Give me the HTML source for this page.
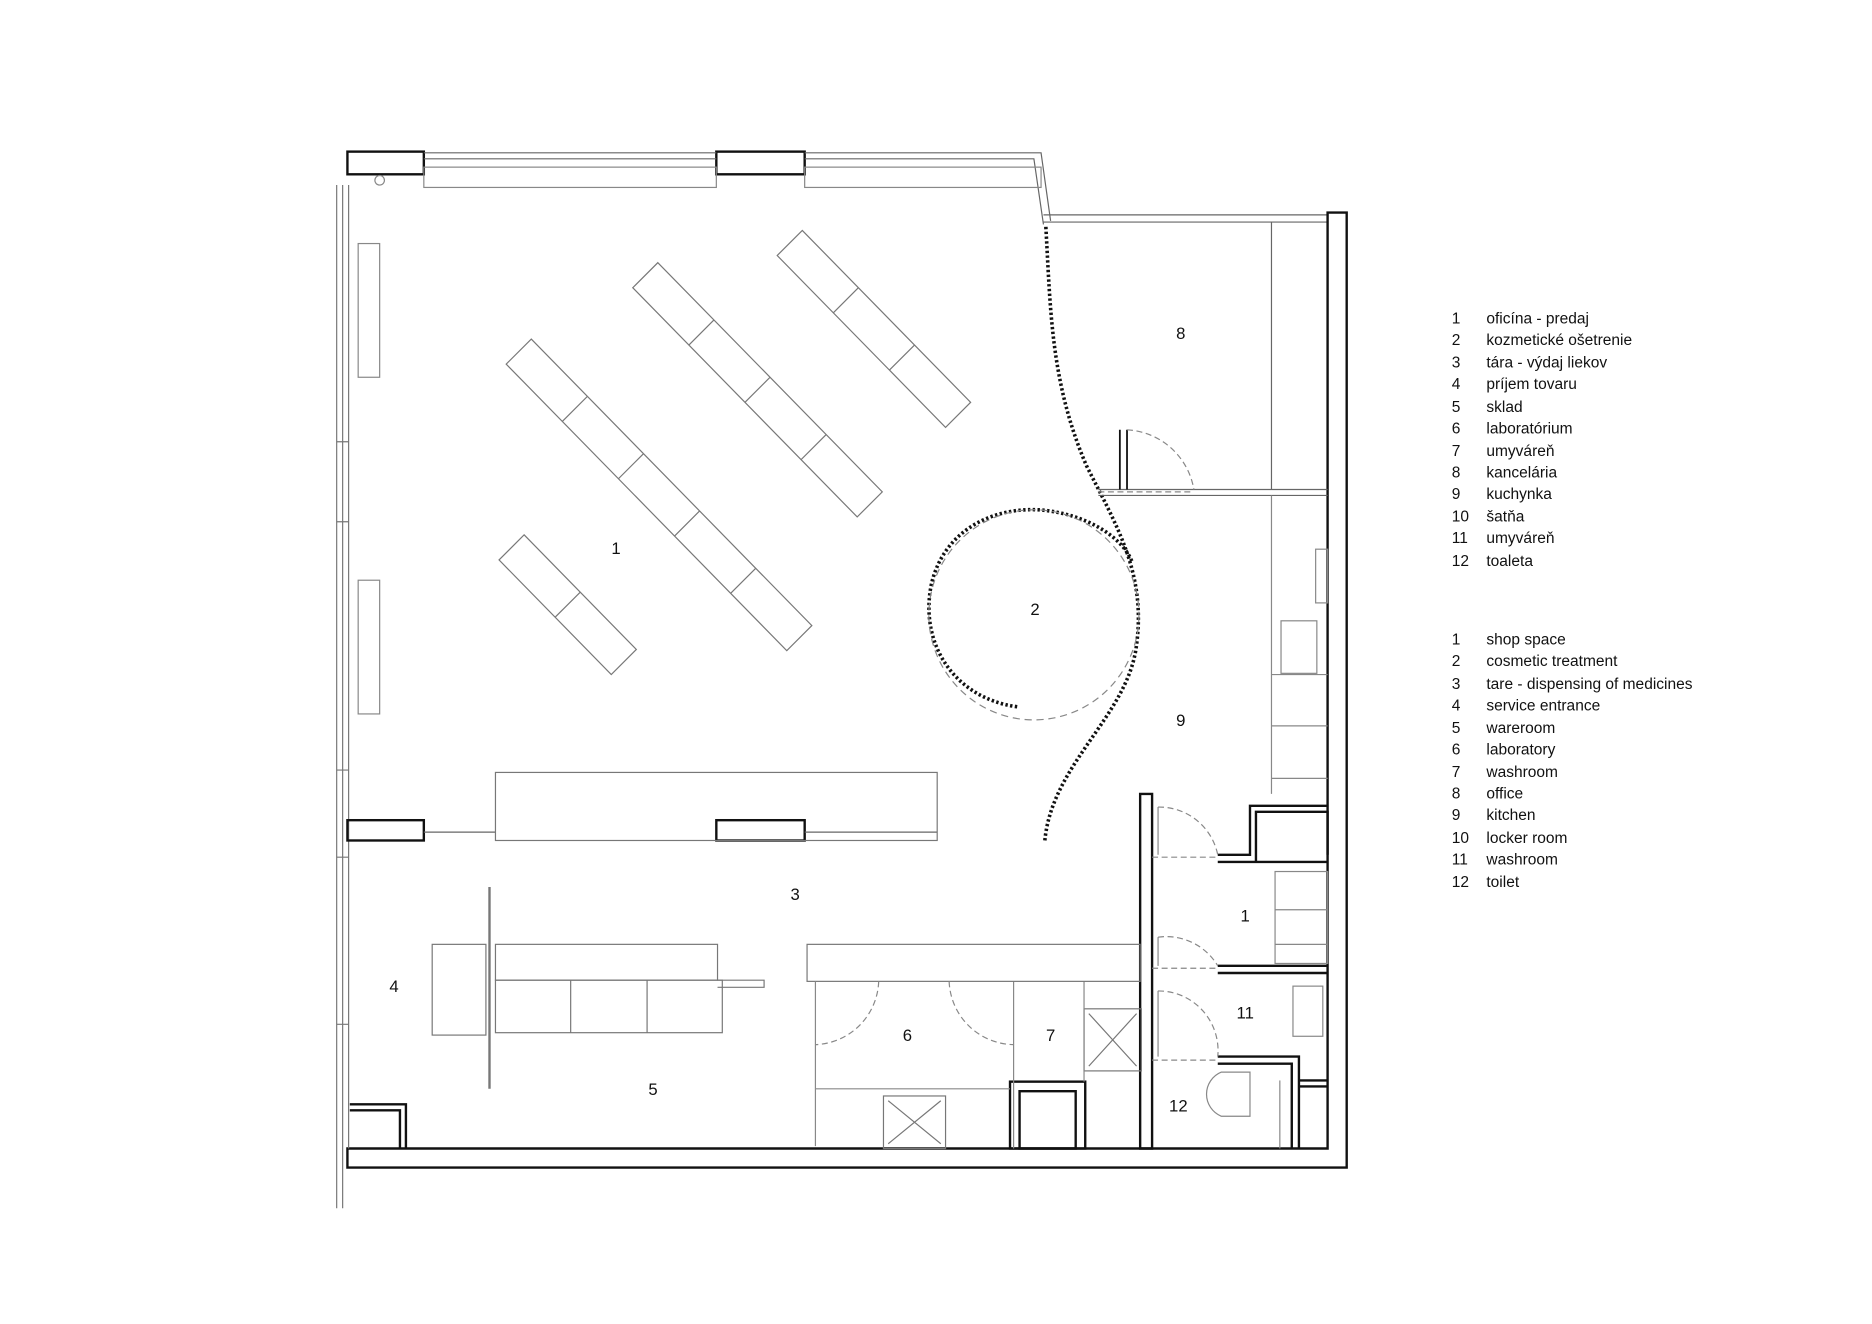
<!DOCTYPE html>
<html><head><meta charset="utf-8"><style>
html,body{margin:0;padding:0;background:#fff}
svg{display:block}
text{font-family:"Liberation Sans",sans-serif;fill:#111}
</style></head><body>
<svg width="1872" height="1324" viewBox="0 0 1568 1109" xmlns="http://www.w3.org/2000/svg">
<rect width="1568" height="1109" fill="#fff"/>
<g fill="none" stroke="#111" stroke-width="1">
<rect x="291" y="127" width="64" height="19" stroke-width="2"/>
<rect x="600" y="127" width="74" height="19" stroke-width="2"/>
<path d="M355 128 H600 M355 133 H600 M674 128 H872 L880 185 M674 133 H866 L874 188" stroke="#666"/>
<rect x="355" y="140" width="245" height="17" stroke="#888"/>
<rect x="674" y="140" width="198" height="17" stroke="#888"/>
<path d="M874 180 H1112 M874 186 H1112" stroke="#666"/>
<circle cx="318" cy="151" r="4" stroke="#888"/>
<path d="M1112 178 H1128 V978 H291 V962 H1112 Z" stroke-width="2"/>
<path d="M282 155 V1012 M287 155 V1012 M292 155 V962" stroke="#777"/>
<rect x="300" y="204" width="18" height="112" stroke="#888"/>
<rect x="300" y="486" width="18" height="112" stroke="#888"/>
<path d="M282 370 H292 M282 437 H292 M282 645 H292 M282 718 H292 M282 858 H292" stroke="#777"/>
<rect x="291" y="687" width="64" height="17" stroke-width="2"/>
<rect x="600" y="687" width="74" height="17" stroke-width="2"/>
<path d="M355 697 H415 M674 697 H785" stroke="#666"/>
<rect x="415" y="647" width="370" height="57" stroke="#777"/>
<path d="M293 925 H340 V962 M293 930 H335 V962" stroke-width="2"/>
<g stroke="#777">
<path d="M445 284 L680 524 L659 545 L424 305 Z M492 332 L471 353 M539 380 L518 401 M586 428 L565 449 M633 476 L612 497"/>
<path d="M551 220 L739 412 L718 433 L530 241 Z M598 268 L577 289 M645 316 L624 337 M692 364 L671 385"/>
<path d="M672 193 L813 337 L792 358 L651 214 Z M719 241 L698 262 M766 289 L745 310"/>
<path d="M439 448 L533 544 L512 565 L418 469 Z M486 496 L465 517"/>
</g>
<path d="M876 190 C880 260 880 320 910 390 C935 440 960 480 952 540 C945 600 880 640 875 706" stroke-width="3" stroke-dasharray="2 2"/>
<path d="M852 592 C800 585 770 540 780 490 C790 445 830 425 870 427 C910 430 940 450 948 470" stroke-width="3" stroke-dasharray="2 2"/>
<circle cx="866" cy="515" r="88" stroke="#888" stroke-dasharray="6 4"/>
<path d="M1065 186 V410 M920 410 H1112 M920 415 H1112" stroke="#666"/>
<path d="M938 360 V410 M944 360 V410" stroke-width="1.5"/>
<path d="M944 360 A60 60 0 0 1 1000 410" stroke="#888" stroke-dasharray="5 3"/>
<path d="M920 412 H1000" stroke="#888" stroke-dasharray="5 3"/>
<path d="M1065 415 V665 M1065 565 H1112 M1065 608 H1112 M1065 652 H1112" stroke="#888"/>
<rect x="1073" y="520" width="30" height="44" stroke="#888"/>
<rect x="1102" y="460" width="10" height="45" stroke="#888"/>
<path d="M955 665 H965 V962 H955 Z" stroke-width="2"/>
<path d="M1020 716 H1047 V675 H1112 M1020 722 H1112 M1052 722 V680 H1112 V716" stroke-width="2"/>
<path d="M1020 809 H1112 M1020 815 H1112" stroke-width="2"/>
<path d="M1020 885 H1088 V962 M1020 891 H1082 V962 M1088 910 H1112 M1088 905 H1112" stroke-width="2"/>
<rect x="1068" y="730" width="44" height="77" stroke="#888"/>
<path d="M1068 762 H1112 M1068 791 H1112" stroke="#888"/>
<g stroke="#888" stroke-dasharray="5 3">
<path d="M970 676 A50 50 0 0 1 1020 716 M965 718 H1020 M970 785 A50 50 0 0 1 1020 809 M965 811 H1020 M970 830 A50 50 0 0 1 1020 885 M965 888 H1020"/>
</g>
<path d="M970 676 V716 M970 785 V809 M970 830 V885" stroke="#888"/>
<rect x="1083" y="826" width="25" height="42" stroke="#888"/>
<path d="M1072 905 V962" stroke="#888"/>
<path d="M1047 898 H1023 A20 20 0 0 0 1023 935 H1047 Z" stroke="#888"/>
<rect x="908" y="845" width="48" height="52" stroke="#777"/>
<path d="M912 849 L952 893 M952 849 L912 893" stroke="#777"/>
<rect x="846" y="906" width="63" height="56" stroke-width="2"/>
<rect x="854" y="914" width="47" height="48" stroke-width="2"/>
<path d="M849 822 V962 M908 822 V906" stroke="#888"/>
<rect x="676" y="791" width="279" height="31" stroke="#777"/>
<path d="M683 822 V960 M683 912 H846" stroke="#888"/>
<g stroke="#888" stroke-dasharray="5 3"><path d="M736 822 A55 55 0 0 1 683 875 M795 822 A55 55 0 0 0 849 875"/></g>
<rect x="740" y="918" width="52" height="44" stroke="#777"/>
<path d="M744 922 L788 958 M788 922 L744 958" stroke="#777"/>
<path d="M410 743 V912" stroke="#777" stroke-width="2"/>
<rect x="362" y="791" width="45" height="76" stroke="#777"/>
<rect x="415" y="791" width="186" height="30" stroke="#777"/>
<rect x="415" y="821" width="190" height="44" stroke="#777"/>
<path d="M478 821 V865 M542 821 V865 M601 821 H640 V827 H601" stroke="#777"/>
</g>
<g font-size="14" text-anchor="middle">
<text x="516" y="464">1</text><text x="867" y="515">2</text><text x="666" y="754">3</text>
<text x="330" y="831">4</text><text x="547" y="917">5</text><text x="760" y="872">6</text>
<text x="880" y="872">7</text><text x="989" y="284">8</text><text x="989" y="608">9</text>
<text x="1043" y="772">1</text><text x="1043" y="853">11</text><text x="987" y="931">12</text>
</g>
<g font-size="13">
<text x="1216" y="271">1</text><text x="1245" y="271">oficína - predaj</text>
<text x="1216" y="289">2</text><text x="1245" y="289">kozmetické ošetrenie</text>
<text x="1216" y="308">3</text><text x="1245" y="308">tára - výdaj liekov</text>
<text x="1216" y="326">4</text><text x="1245" y="326">príjem tovaru</text>
<text x="1216" y="345">5</text><text x="1245" y="345">sklad</text>
<text x="1216" y="363">6</text><text x="1245" y="363">laboratórium</text>
<text x="1216" y="382">7</text><text x="1245" y="382">umyváreň</text>
<text x="1216" y="400">8</text><text x="1245" y="400">kancelária</text>
<text x="1216" y="418">9</text><text x="1245" y="418">kuchynka</text>
<text x="1216" y="437">10</text><text x="1245" y="437">šatňa</text>
<text x="1216" y="455">11</text><text x="1245" y="455">umyváreň</text>
<text x="1216" y="474">12</text><text x="1245" y="474">toaleta</text>
<text x="1216" y="540">1</text><text x="1245" y="540">shop space</text>
<text x="1216" y="558">2</text><text x="1245" y="558">cosmetic treatment</text>
<text x="1216" y="577">3</text><text x="1245" y="577">tare - dispensing of medicines</text>
<text x="1216" y="595">4</text><text x="1245" y="595">service entrance</text>
<text x="1216" y="614">5</text><text x="1245" y="614">wareroom</text>
<text x="1216" y="632">6</text><text x="1245" y="632">laboratory</text>
<text x="1216" y="651">7</text><text x="1245" y="651">washroom</text>
<text x="1216" y="669">8</text><text x="1245" y="669">office</text>
<text x="1216" y="687">9</text><text x="1245" y="687">kitchen</text>
<text x="1216" y="706">10</text><text x="1245" y="706">locker room</text>
<text x="1216" y="724">11</text><text x="1245" y="724">washroom</text>
<text x="1216" y="743">12</text><text x="1245" y="743">toilet</text>
</g>
</svg>
</body></html>
